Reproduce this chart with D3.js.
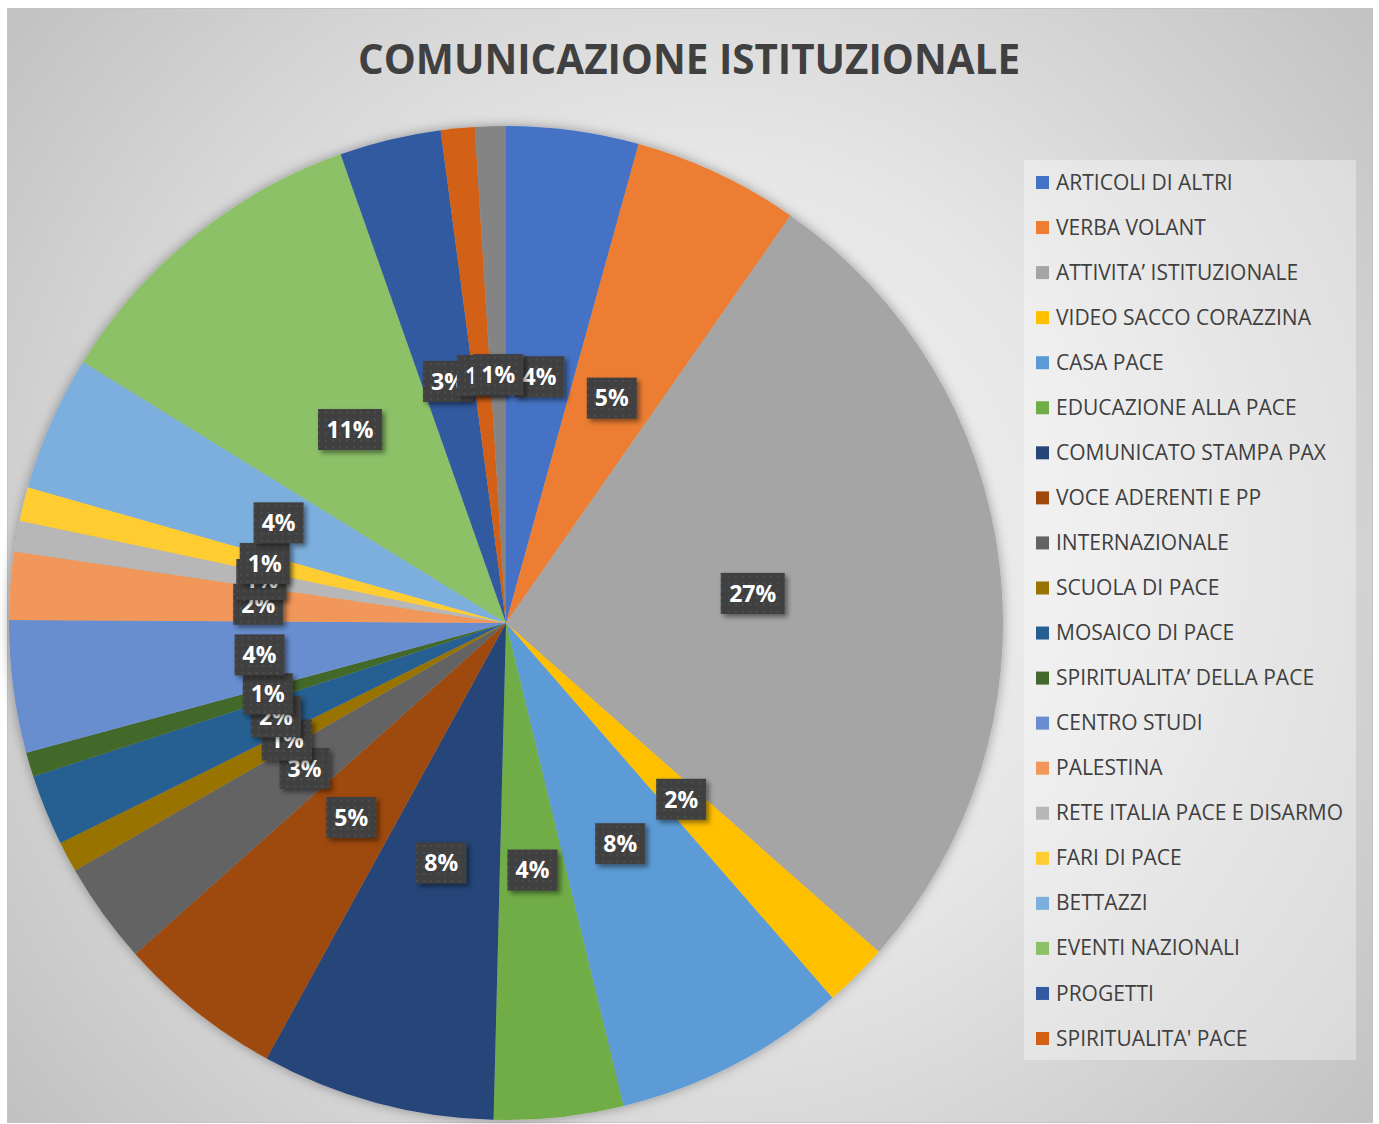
<!DOCTYPE html>
<html>
<head>
<meta charset="utf-8">
<script src="https://cdn.jsdelivr.net/npm/d3@7"></script>
<style>
  body { margin: 0; background: #fff; }
  svg { display: block; }
</style>
</head>
<body>
<div id="chart"></div>
<script>
// categories in slice order (clockwise from 12 o'clock)
const categories = [
  "ARTICOLI DI ALTRI", "VERBA VOLANT", "ATTIVITA\u2019 ISTITUZIONALE", "VIDEO SACCO CORAZZINA",
  "CASA PACE", "EDUCAZIONE ALLA PACE", "COMUNICATO STAMPA PAX", "VOCE ADERENTI E PP",
  "INTERNAZIONALE", "SCUOLA DI PACE", "MOSAICO DI PACE", "SPIRITUALITA\u2019 DELLA PACE",
  "CENTRO STUDI", "PALESTINA", "RETE ITALIA PACE E DISARMO", "FARI DI PACE",
  "BETTAZZI", "EVENTI NAZIONALI", "PROGETTI", "SPIRITUALITA' PACE", "ALTRO"
]
// share of each slice (percent)
const values = [4.3, 5.4, 26.8, 2.1, 7.6, 4.2, 7.6, 5.4, 3.3, 1.0, 2.3, 0.8,
  4.3, 2.2, 1.0, 1.1, 4.4, 10.8, 3.3, 1.1, 1.0]
const colors = [
  "#4472C4", "#ED7D31", "#A5A5A5", "#FFC000", "#5B9BD5", "#70AD47",
  "#264478", "#9E480E", "#636363", "#997300", "#255E91", "#43682B",
  "#698ED0", "#F1975A", "#B7B7B7", "#FFCD33", "#7CAFDD", "#8CC168",
  "#335AA1", "#D26012", "#848484"
]
const legendCount = 20 // the last slice does not fit in the legend
const title = "COMUNICAZIONE ISTITUZIONALE"

const W = 1379, H = 1124
const CX = 506, CY = 623, R = 497

const svg = d3.select("#chart").append("svg")
  .attr("width", W)
  .attr("height", H)

const defs = svg.append("defs")

const bg = defs.append("radialGradient")
  .attr("id", "bg")
  .attr("gradientUnits", "userSpaceOnUse")
  .attr("cx", 700).attr("cy", 560).attr("r", 900)
bg.append("stop").attr("offset", 0).attr("stop-color", "#f6f6f6")
bg.append("stop").attr("offset", 0.45).attr("stop-color", "#e6e6e6")
bg.append("stop").attr("offset", 1).attr("stop-color", "#c0c0c0")

const pieShadow = defs.append("filter").attr("id", "pieShadow")
  .attr("x", "-10%").attr("y", "-10%").attr("width", "120%").attr("height", "120%")
pieShadow.append("feDropShadow")
  .attr("dx", 0).attr("dy", 0).attr("stdDeviation", 6)
  .attr("flood-color", "#000").attr("flood-opacity", 0.35)

const boxShadow = defs.append("filter").attr("id", "boxShadow")
  .attr("x", "-30%").attr("y", "-30%").attr("width", "160%").attr("height", "160%")
boxShadow.append("feDropShadow")
  .attr("dx", 3).attr("dy", 3).attr("stdDeviation", 2.5)
  .attr("flood-color", "#000").attr("flood-opacity", 0.45)

const dots = defs.append("pattern")
  .attr("id", "dots")
  .attr("patternUnits", "userSpaceOnUse")
  .attr("width", 7).attr("height", 7)
dots.append("rect").attr("width", 7).attr("height", 7).attr("fill", "#3f3f3f")
dots.append("rect").attr("x", 3).attr("y", 3).attr("width", 2).attr("height", 2).attr("fill", "#4f4f4f")

// chart area
svg.append("rect")
  .attr("x", 7.5).attr("y", 8.5)
  .attr("width", 1365).attr("height", 1114)
  .attr("fill", "url(#bg)")
  .attr("stroke", "#c4c4c4")

svg.append("text")
  .attr("x", 689)
  .attr("y", 74)
  .attr("text-anchor", "middle")
  .attr("textLength", 662)
  .attr("lengthAdjust", "spacingAndGlyphs")
  .style("font-family", "'Open Sans', sans-serif")
  .style("font-weight", "bold")
  .style("font-size", "42px")
  .style("fill", "#404040")
  .text(title)

const pie = d3.pie().sort(null).value(d => d)
const arcs = pie(values)
const total = d3.sum(values)
const arc = d3.arc().innerRadius(0).outerRadius(R)
const labelArc = d3.arc().innerRadius(R * 0.5).outerRadius(R * 0.5)

const g = svg.append("g").attr("transform", `translate(${CX},${CY})`)

g.append("g")
  .attr("filter", "url(#pieShadow)")
  .selectAll("path")
  .data(arcs)
  .join("path")
  .attr("d", arc)
  .attr("fill", (d, i) => colors[i])

// data labels
const fmt = d3.format(".0%")
const labels = g.append("g")
arcs.forEach(function (d) {
  const [x, y] = labelArc.centroid(d)
  const txt = fmt(d.value / total)
  const lg = labels.append("g").attr("transform", `translate(${x},${y})`)
  const bw = txt.length > 2 ? 64 : 50
  lg.append("rect")
    .attr("x", -bw / 2).attr("y", -20.5)
    .attr("width", bw).attr("height", 41)
    .attr("fill", "url(#dots)")
    .attr("filter", "url(#boxShadow)")
  lg.append("text")
    .attr("text-anchor", "middle")
    .attr("dy", "0.36em")
    .style("font-family", "'Open Sans', sans-serif")
    .style("font-weight", "bold")
    .style("font-size", "23px")
    .style("fill", "#ffffff")
    .text(txt)
})

// legend
svg.append("rect")
  .attr("x", 1024).attr("y", 160)
  .attr("width", 332).attr("height", 900)
  .attr("fill", "#ffffff")
  .attr("fill-opacity", 0.35)

const legendY = d3.scalePoint()
  .domain(d3.range(legendCount))
  .range([182, 1038])

const items = svg.append("g").selectAll("g")
  .data(categories.slice(0, legendCount))
  .join("g")
  .attr("transform", (d, i) => `translate(1036,${legendY(i)})`)
items.append("rect")
  .attr("x", 0).attr("y", -6)
  .attr("width", 13).attr("height", 13)
  .attr("fill", (d, i) => colors[i])
items.append("text")
  .attr("x", 20)
  .attr("dy", "0.36em")
  .style("font-family", "'Open Sans', sans-serif")
  .style("font-size", "21px")
  .style("fill", "#404040")
  .text(d => d)
</script>
</body>
</html>
